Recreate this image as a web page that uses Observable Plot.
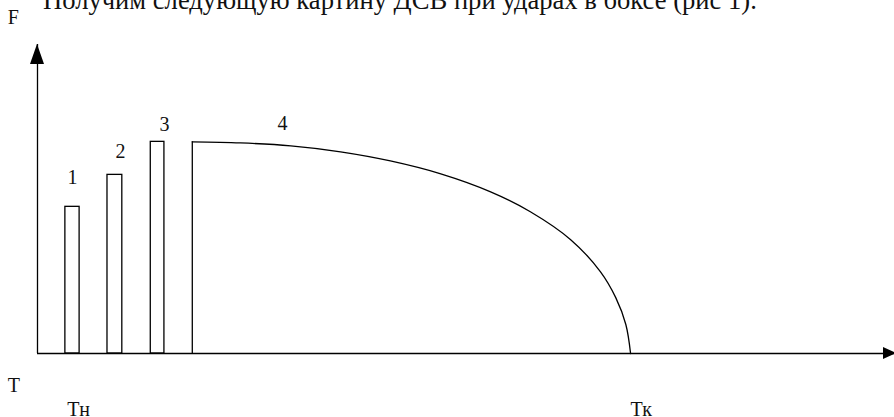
<!DOCTYPE html>
<html>
<head>
<meta charset="utf-8">
<script src="https://cdn.jsdelivr.net/npm/d3@7"></script>
<script src="https://cdn.jsdelivr.net/npm/@observablehq/plot@0.6"></script>
<style>
  body { margin: 0; background: #fff; overflow: hidden; }
  #wrap { position: relative; width: 894px; height: 417px; overflow: hidden; }
  #title {
    position: absolute; left: 43px; top: -13.4px;
    font: 26.6px "Liberation Serif", "Times New Roman", serif;
    line-height: 1; white-space: nowrap; color: #111;
  }
  #wrap svg { display: block; }
  #wrap svg text { font-family: "Liberation Serif", "Times New Roman", serif; }
</style>
</head>
<body>
<div id="wrap">
  <div id="title">Получим следующую картину ДСВ при ударах в боксе (рис 1).</div>
</div>
<script>
// Strikes 1–3: start and end time, peak force (force scale: 100 = strongest strike)
const strikes = ["1", "2", "3"];
const strikeStart = [4.7, 11.8, 19.1];
const strikeEnd = [7.1, 14.3, 21.4];
const strikeForce = [69.3, 84.4, 100];

// Sustained push 4: force over time, from its onset down to Tк
const holdT = [26.1, 34.2, 42.7, 51.1, 59.5, 68.0, 76.4, 83.1, 89.9, 94.9, 97.5, 99.2, 100];
const holdF = [100, 99.5, 98.1, 95.3, 91.0, 84.9, 76.4, 67.0, 53.8, 38.7, 26.4, 13.7, 0];

// Numbers over the impulses
const labelText = ["1", "2", "3", "4"];
const labelX = [5.9, 14.0, 21.4, 41.3];
const labelY = [80.3, 92.6, 104.9, 105.4];

// Axis names and the start / end marks
const axisNames = ["F", "T", "Тн", "Тк"];
const axisNameX = [-5.0, -5.0, 5.0, 100];
const axisNameY = [155.5, -18.4, -29.4, -29.4];

const tMax = 144.5;
const fMax = 146;

const strikeData = strikes.map((s, i) => ({ s, t1: strikeStart[i], t2: strikeEnd[i], f: strikeForce[i] }));
const holdData = holdT.map((t, i) => ({ t, f: holdF[i] }));
const labelData = labelText.map((text, i) => ({ text, t: labelX[i], f: labelY[i] }));
const nameData = axisNames.map((text, i) => ({ text, t: axisNameX[i], f: axisNameY[i] }));

const ink = "#000";
const lw = 1.3;
const serif = "'Liberation Serif', 'Times New Roman', serif";

const plot = Plot.plot({
  width: 894,
  height: 417,
  marginLeft: 37,
  marginRight: 0,
  marginTop: 44,
  marginBottom: 64,
  x: { domain: [0, tMax], axis: null },
  y: { domain: [0, fMax], axis: null },
  style: { background: "transparent", overflow: "visible", fontFamily: serif },
  marks: [
    // pulse 4: vertical front and the decaying force curve
    Plot.ruleX([holdT[0]], { y1: 0, y2: holdF[0], stroke: ink, strokeWidth: lw }),
    Plot.line(holdData, { x: "t", y: "f", curve: "catmull-rom", stroke: ink, strokeWidth: lw }),
    // short strikes
    Plot.rectY(strikeData, { x1: "t1", x2: "t2", y: "f", fill: "white", stroke: ink, strokeWidth: lw }),
    // axes
    Plot.ruleX([0], { y1: 0, y2: fMax, stroke: ink, strokeWidth: lw }),
    Plot.ruleY([0], { x1: 0, x2: tMax, stroke: ink, strokeWidth: lw }),
    // labels
    Plot.text(labelData, {
      x: "t", y: "f", text: "text", lineAnchor: "bottom",
      fontFamily: serif, fontSize: 20, fill: "#111"
    }),
    Plot.text(nameData, {
      x: "t", y: "f", text: "text", textAnchor: "start", lineAnchor: "bottom",
      fontFamily: serif, fontSize: 20, fill: "#111"
    })
  ]
});

document.getElementById("wrap").appendChild(plot);

// filled arrowheads at the ends of both axes, placed through the plot scales
const sx = plot.scale("x");
const sy = plot.scale("y");
const ox = sx.apply(0), oy = sy.apply(0);
const yTip = sy.apply(fMax), xTip = sx.apply(tMax);
const svg = d3.select(plot);
svg.append("path")
  .attr("d", `M${ox},${yTip}L${ox - 7},${yTip + 20}L${ox + 7},${yTip + 20}Z`)
  .attr("fill", ink);
svg.append("path")
  .attr("d", `M${xTip + 2},${oy}L${xTip - 11},${oy - 6}L${xTip - 11},${oy + 6}Z`)
  .attr("fill", ink);
</script>
</body>
</html>
